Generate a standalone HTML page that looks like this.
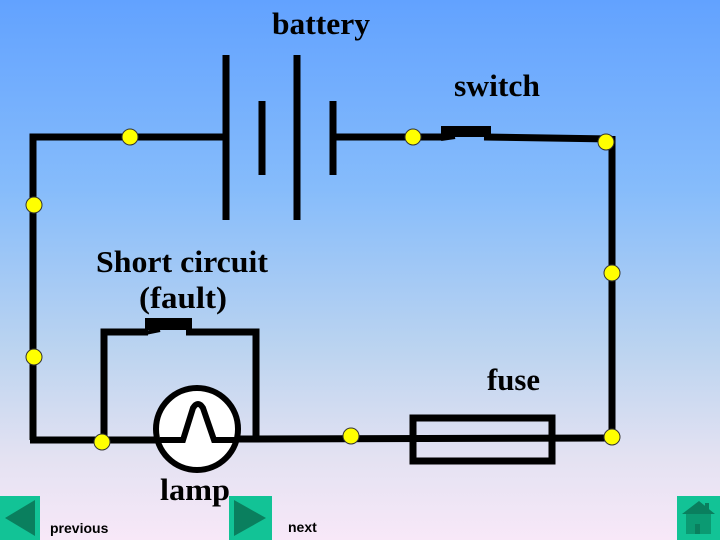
<!DOCTYPE html>
<html><head><meta charset="utf-8"><style>
html,body{margin:0;padding:0;}
body{width:720px;height:540px;overflow:hidden;background:linear-gradient(to bottom,#62a2ff 0%,#86bcfb 35%,#bcd4f0 65%,#e4e2f2 85%,#f8e8f8 100%);}
svg{display:block;}
.t{font-family:"Liberation Serif",serif;font-weight:bold;font-size:31px;fill:#000;}
.s{font-family:"Liberation Sans",sans-serif;font-weight:bold;font-size:14px;fill:#000;}
</style></head><body>
<svg width="720" height="540" viewBox="0 0 720 540">
<g stroke="#000" stroke-width="7" fill="none">
<polyline points="33,440 33,137 226,137"/>
<line x1="333" y1="137" x2="445" y2="137"/>
<line x1="484" y1="137" x2="612" y2="139"/>
<line x1="612" y1="136" x2="612" y2="440"/>
<line x1="226" y1="55" x2="226" y2="220"/>
<line x1="262" y1="101" x2="262" y2="175"/>
<line x1="297" y1="55" x2="297" y2="220"/>
<line x1="333" y1="101" x2="333" y2="175"/>
<line x1="30" y1="440" x2="160" y2="440"/>
<line x1="236" y1="439" x2="612" y2="438"/>
<polyline points="104,440 104,332 148,332"/>
<polyline points="186,332 256,332 256,439"/>
</g>
<rect x="441" y="126" width="50" height="11" fill="#000"/>
<line x1="441" y1="139" x2="455" y2="137" stroke="#000" stroke-width="4"/>
<rect x="145" y="318" width="47" height="12" fill="#000"/>
<line x1="145" y1="333" x2="160" y2="330" stroke="#000" stroke-width="4"/>
<rect x="413" y="418" width="139" height="43" fill="none" stroke="#000" stroke-width="7"/>
<circle cx="197" cy="429" r="41" fill="#fff" stroke="#000" stroke-width="6"/>
<path d="M160,440 L183,440 L193,408 Q198,400 203,408 L214,440 L238,440" fill="none" stroke="#000" stroke-width="6"/>
<g fill="#ffff00" stroke="#333" stroke-width="1">
<circle cx="130" cy="137" r="8"/>
<circle cx="413" cy="137" r="8"/>
<circle cx="606" cy="142" r="8"/>
<circle cx="34" cy="205" r="8"/>
<circle cx="612" cy="273" r="8"/>
<circle cx="34" cy="357" r="8"/>
<circle cx="102" cy="442" r="8"/>
<circle cx="351" cy="436" r="8"/>
<circle cx="612" cy="437" r="8"/>
</g>
<text class="t" x="272" y="34" textLength="98" lengthAdjust="spacingAndGlyphs">battery</text>
<text class="t" x="454" y="96" textLength="86" lengthAdjust="spacingAndGlyphs">switch</text>
<text class="t" x="96" y="272" textLength="172" lengthAdjust="spacingAndGlyphs">Short circuit</text>
<text class="t" x="139" y="308" textLength="88" lengthAdjust="spacingAndGlyphs">(fault)</text>
<text class="t" x="487" y="390" textLength="53" lengthAdjust="spacingAndGlyphs">fuse</text>
<text class="t" x="160" y="500" textLength="70" lengthAdjust="spacingAndGlyphs">lamp</text>
<rect x="0" y="496" width="40" height="44" fill="#12c396"/>
<polygon points="5,518 35,500 35,536" fill="#0a7f5e"/>
<rect x="229" y="496" width="43" height="44" fill="#12c396"/>
<polygon points="234,500 266,518 234,536" fill="#0a7f5e"/>
<rect x="677" y="496" width="43" height="44" fill="#12c396"/>
<polygon points="682,514 699,501 715,514" fill="#0a7f5e"/>
<rect x="705" y="503" width="4" height="8" fill="#0a7f5e"/>
<rect x="686" y="514" width="25" height="20" fill="#0b9a72"/>
<rect x="695" y="524" width="5" height="10" fill="#0a7f5e"/>
<text class="s" x="50" y="533">previous</text>
<text class="s" x="288" y="532">next</text>
</svg>
</body></html>
